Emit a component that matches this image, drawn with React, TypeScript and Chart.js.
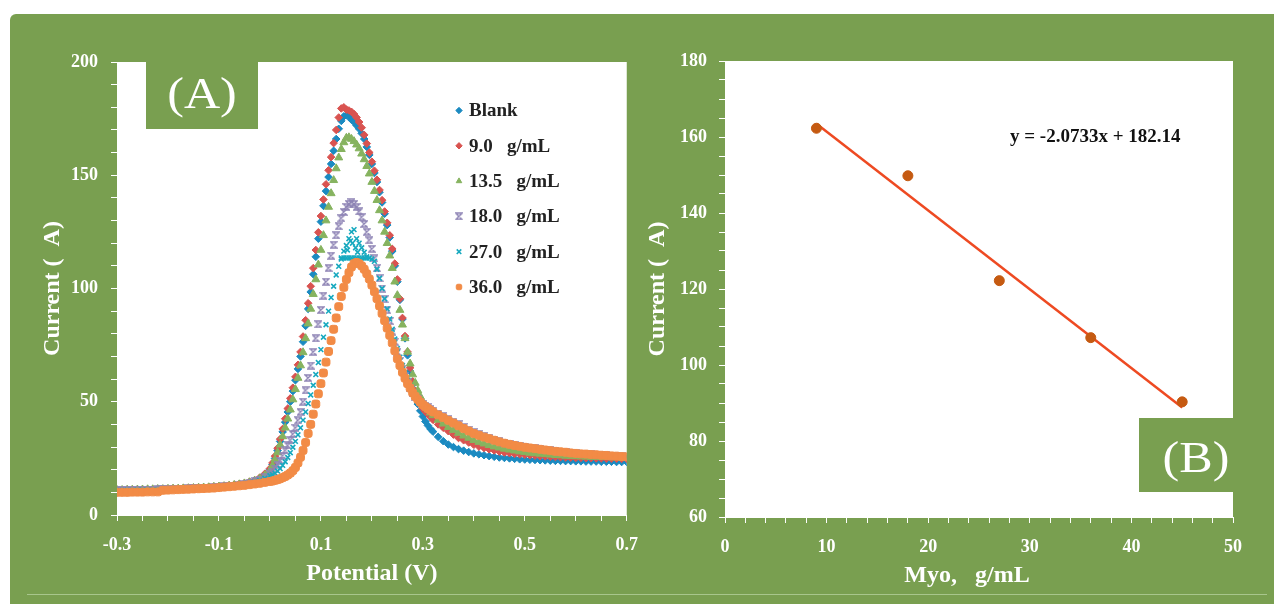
import React, { useEffect, useRef } from 'react';
import { Chart, registerables } from 'chart.js';
import { drawPoint } from 'chart.js/helpers';

Chart.register(...registerables);

const FONT = "'Liberation Serif', 'Times New Roman', Times, serif";
const GREEN = '#799f50';

// ---------- Panel A: DPV curves ----------
const potential = [
  -0.30, -0.29, -0.28, -0.27, -0.26, -0.25, -0.24, -0.23, -0.22, -0.21,
  -0.20, -0.19, -0.18, -0.17, -0.16, -0.15, -0.14, -0.13, -0.12, -0.11,
  -0.10, -0.09, -0.08, -0.07, -0.06, -0.05, -0.04, -0.03, -0.02, -0.01,
  0.000, 0.005, 0.010, 0.015, 0.020, 0.025, 0.030, 0.035, 0.040, 0.045,
  0.050, 0.055, 0.060, 0.065, 0.070, 0.075, 0.080, 0.085, 0.090, 0.095,
  0.100, 0.105, 0.110, 0.115, 0.120, 0.125, 0.130, 0.135, 0.140, 0.145,
  0.150, 0.155, 0.160, 0.165, 0.170, 0.175, 0.180, 0.185, 0.190, 0.195,
  0.200, 0.205, 0.210, 0.215, 0.220, 0.225, 0.230, 0.235, 0.240, 0.245,
  0.250, 0.255, 0.260, 0.265, 0.270, 0.275, 0.280, 0.285, 0.290, 0.295,
  0.300, 0.305, 0.310, 0.315, 0.320,
  0.33, 0.34, 0.35, 0.36, 0.37, 0.38, 0.39,
  0.40, 0.41, 0.42, 0.43, 0.44, 0.45, 0.46, 0.47, 0.48, 0.49,
  0.50, 0.51, 0.52, 0.53, 0.54, 0.55, 0.56, 0.57, 0.58, 0.59,
  0.60, 0.61, 0.62, 0.63, 0.64, 0.65, 0.66, 0.67, 0.68, 0.69, 0.70,
];

const blankCurrent = [
  11.0, 11.0, 11.1, 11.1, 11.2, 11.2, 11.3, 11.3, 11.4, 11.4,
  11.5, 11.6, 11.6, 11.7, 11.8, 11.9, 12.0, 12.1, 12.2, 12.4,
  12.5, 12.7, 12.9, 13.2, 13.5, 13.9, 14.4, 15.1, 16.1, 17.6,
  20.0, 22.3, 25.0, 28.5, 32.5, 36.7, 41.0, 45.5, 50.0, 54.7,
  59.5, 64.5, 70.0, 76.5, 83.5, 91.0, 98.5, 106.3, 114.0, 122.0,
  129.5, 136.5, 143.0, 149.2, 155.0, 160.8, 166.0, 170.5, 174.0, 176.0,
  176.5, 175.8, 174.5, 173.5, 172.0, 170.5, 168.5, 166.0, 162.5, 159.0,
  155.0, 151.0, 147.0, 142.5, 138.0, 133.0, 128.0, 122.5, 116.5, 110.0,
  103.0, 95.0, 86.5, 78.0, 70.5, 63.5, 57.5, 53.0, 49.0, 46.0,
  43.5, 41.3, 39.5, 38.0, 36.8,
  34.5, 32.6, 31.1, 30.0, 29.1, 28.4, 27.8,
  27.2, 26.8, 26.4, 26.0, 25.7, 25.4, 25.2, 25.0, 24.8, 24.6,
  24.5, 24.4, 24.3, 24.2, 24.1, 24.0, 23.9, 23.9, 23.8, 23.8,
  23.7, 23.7, 23.6, 23.6, 23.6, 23.5, 23.5, 23.5, 23.4, 23.4, 23.4,
];

const myo9Current = [
  11.1, 11.1, 11.2, 11.2, 11.3, 11.3, 11.4, 11.4, 11.5, 11.5,
  11.6, 11.7, 11.7, 11.8, 11.9, 12.0, 12.1, 12.2, 12.4, 12.5,
  12.7, 12.9, 13.1, 13.4, 13.7, 14.1, 14.7, 15.4, 16.5, 18.2,
  20.5, 23.0, 26.0, 29.5, 33.5, 38.0, 42.5, 47.0, 51.5, 56.2,
  61.0, 66.3, 72.0, 78.8, 86.0, 93.5, 101.0, 109.0, 117.0, 124.8,
  132.0, 139.3, 146.0, 152.2, 158.0, 164.2, 170.0, 175.5, 179.5, 180.0,
  179.0, 178.6, 178.0, 177.0, 175.5, 173.5, 171.0, 167.8, 164.0, 160.0,
  156.0, 152.0, 148.0, 143.5, 139.0, 134.0, 129.0, 123.5, 117.5, 111.0,
  104.0, 95.5, 87.0, 79.0, 72.0, 65.0, 59.0, 54.8, 51.5, 49.0,
  47.0, 45.7, 44.5, 43.2, 42.0,
  40.0, 38.5, 37.0, 35.5, 34.0, 33.0, 32.0,
  31.0, 30.2, 29.6, 29.0, 28.5, 28.0, 27.6, 27.3, 27.0, 26.8,
  26.6, 26.4, 26.2, 26.0, 25.9, 25.7, 25.6, 25.5, 25.4, 25.3,
  25.2, 25.2, 25.1, 25.1, 25.0, 25.0, 24.9, 24.9, 24.9, 24.8, 24.8,
];

const myo13Current = [
  11.0, 11.0, 11.1, 11.1, 11.2, 11.2, 11.3, 11.3, 11.4, 11.4,
  11.5, 11.6, 11.6, 11.7, 11.8, 11.9, 12.0, 12.1, 12.2, 12.4,
  12.5, 12.7, 12.9, 13.2, 13.5, 13.9, 14.4, 15.1, 16.1, 17.5,
  19.5, 21.8, 24.5, 27.6, 31.0, 34.7, 38.5, 42.5, 46.5, 51.0,
  55.5, 60.5, 66.0, 71.8, 78.0, 84.5, 91.0, 97.5, 104.0, 110.5,
  117.0, 123.5, 130.0, 136.0, 142.0, 147.8, 153.0, 157.8, 161.5, 164.5,
  166.5, 166.7, 166.0, 165.0, 163.5, 161.8, 159.5, 157.0, 154.0, 150.7,
  147.0, 143.0, 139.0, 134.5, 130.0, 125.0, 120.0, 114.5, 109.0, 103.0,
  97.0, 90.5, 84.0, 78.0, 72.0, 66.8, 62.0, 58.3, 55.0, 52.3,
  50.0, 48.2, 46.5, 45.2, 44.0,
  42.0, 40.3, 38.8, 37.5, 36.2, 35.0, 34.0,
  33.0, 32.2, 31.5, 30.8, 30.2, 29.7, 29.2, 28.8, 28.4, 28.0,
  27.7, 27.4, 27.2, 27.0, 26.8, 26.6, 26.4, 26.3, 26.1, 26.0,
  25.9, 25.8, 25.7, 25.6, 25.6, 25.5, 25.5, 25.4, 25.4, 25.3, 25.3,
];

const myo18Current = [
  10.9, 10.9, 11.0, 11.0, 11.1, 11.1, 11.2, 11.2, 11.3, 11.3,
  11.4, 11.5, 11.5, 11.6, 11.7, 11.8, 11.9, 12.0, 12.1, 12.3,
  12.4, 12.6, 12.8, 13.0, 13.3, 13.7, 14.2, 14.8, 15.6, 16.7,
  18.0, 19.2, 20.5, 22.2, 24.0, 26.2, 28.5, 30.7, 33.0, 35.7,
  38.5, 41.8, 45.5, 50.0, 55.0, 60.5, 66.0, 72.0, 78.0, 84.2,
  90.5, 96.8, 103.0, 109.0, 114.5, 119.3, 123.5, 127.5, 131.0, 133.8,
  136.0, 137.3, 138.0, 137.3, 136.0, 134.0, 131.5, 128.5, 125.0, 121.3,
  117.5, 113.3, 109.0, 104.5, 100.0, 95.3, 90.5, 85.7, 81.0, 76.5,
  72.0, 68.0, 64.5, 61.3, 58.5, 56.0, 54.0, 52.3, 51.0, 50.0,
  49.0, 48.2, 47.5, 46.7, 46.0,
  44.8, 43.6, 42.4, 41.2, 40.0, 38.8, 37.6,
  36.5, 35.6, 34.8, 34.0, 33.3, 32.6, 32.0, 31.4, 30.9, 30.5,
  30.1, 29.7, 29.4, 29.1, 28.8, 28.5, 28.2, 28.0, 27.7, 27.5,
  27.3, 27.1, 26.9, 26.8, 26.6, 26.5, 26.3, 26.2, 26.0, 25.9, 25.8,
];

const myo27Current = [
  10.8, 10.8, 10.9, 10.9, 11.0, 11.0, 11.1, 11.1, 11.2, 11.2,
  11.3, 11.4, 11.4, 11.5, 11.6, 11.7, 11.8, 11.9, 12.0, 12.2,
  12.3, 12.5, 12.7, 12.9, 13.2, 13.5, 14.0, 14.6, 15.3, 16.2,
  17.3, 17.8, 18.5, 19.4, 20.5, 21.9, 23.5, 25.4, 27.5, 29.9,
  32.5, 35.4, 38.5, 41.9, 45.5, 49.2, 53.0, 57.3, 62.0, 67.3,
  73.0, 78.5, 84.0, 90.0, 96.0, 101.0, 106.0, 109.8, 113.0, 116.5,
  119.0, 122.0, 125.0, 126.0, 122.0, 120.0, 118.0, 116.0, 114.0, 113.5,
  113.0, 112.0, 108.5, 104.5, 100.0, 95.5, 91.0, 86.5, 82.0, 77.7,
  73.5, 69.7, 66.0, 62.7, 59.5, 56.8, 54.5, 52.7, 51.0, 49.8,
  48.8, 48.0, 47.2, 46.5, 45.8,
  44.6, 43.4, 42.2, 41.0, 39.8, 38.7, 37.5,
  36.4, 35.6, 34.8, 34.1, 33.4, 32.7, 32.1, 31.5, 31.0, 30.5,
  30.1, 29.7, 29.4, 29.1, 28.8, 28.5, 28.2, 27.9, 27.7, 27.5,
  27.3, 27.1, 26.9, 26.7, 26.6, 26.4, 26.3, 26.1, 26.0, 25.9, 25.8,
];
// extra readings in the crowded flat top of the 27.0 curve
const myo27PeakPotential = [0.14, 0.145, 0.15, 0.155, 0.16, 0.165, 0.17, 0.175, 0.18, 0.185, 0.19, 0.152, 0.158, 0.162, 0.168, 0.172];
const myo27PeakCurrent = [113.5, 113.5, 113.5, 113.5, 113.5, 113.5, 113.5, 113.5, 113.5, 113.5, 113.5, 117.0, 121.0, 120.0, 118.0, 116.0];

const myo36Current = [
  10.0, 10.0, 10.0, 10.1, 10.1, 10.1, 10.2, 10.2, 10.2, 10.9,
  11.0, 11.1, 11.2, 11.3, 11.4, 11.5, 11.6, 11.7, 11.8, 11.9,
  12.1, 12.3, 12.5, 12.7, 12.9, 13.1, 13.4, 13.7, 14.0, 14.4,
  14.8, 15.0, 15.3, 15.6, 16.0, 16.5, 17.0, 17.7, 18.5, 19.6,
  21.0, 23.0, 25.5, 28.5, 32.0, 36.0, 40.0, 44.5, 49.0, 53.5,
  58.0, 62.7, 67.5, 72.2, 77.0, 82.0, 87.0, 92.0, 96.5, 100.5,
  104.0, 107.0, 109.5, 111.0, 111.5, 111.0, 110.0, 108.5, 106.5, 104.2,
  101.5, 98.6, 95.5, 92.3, 89.0, 85.8, 82.5, 79.3, 76.0, 72.5,
  69.0, 66.0, 63.0, 60.4, 58.0, 56.0, 54.0, 52.4, 51.0, 49.8,
  48.7, 47.8, 47.0, 46.2, 45.5,
  44.2, 43.0, 41.8, 40.6, 39.4, 38.2, 37.1,
  36.0, 35.2, 34.4, 33.7, 33.0, 32.3, 31.7, 31.2, 30.7, 30.3,
  29.9, 29.6, 29.3, 29.0, 28.7, 28.4, 28.1, 27.9, 27.7, 27.4,
  27.2, 27.0, 26.9, 26.7, 26.6, 26.4, 26.3, 26.1, 26.0, 25.8, 25.7,
];

const seriesLabels = ['Blank', '9.0   g/mL', '13.5   g/mL', '18.0   g/mL', '27.0   g/mL', '36.0   g/mL'];
const seriesColors = ['#1b8ac1', '#d95350', '#86b35f', '#8e84b5', '#17a9bf', '#f28b46'];
const seriesMarkers = ['rectRot', 'rectRot', 'triangle', 'hourglass', 'crossRot', 'rectRounded'];
const seriesRadius = [3.8, 3.8, 4.6, 3.6, 3.4, 4.6];

const xTicksA = { min: -0.3, max: 0.7, minor: 0.05, major: 0.2 };
const yTicksA = { min: 0, max: 200, minor: 10, major: 50 };

// ---------- Panel B: calibration ----------
const myoConc = [9, 18, 27, 36, 45];
const peakCurrent = [162.3, 149.8, 122.2, 107.2, 90.3];
const fitSlope = -2.0733;
const fitIntercept = 182.14;
const fitRange = [9, 45];
const equationText = 'y = -2.0733x + 182.14';

const xTicksB = { min: 0, max: 50, minor: 2, major: 10 };
const yTicksB = { min: 60, max: 180, minor: 5, major: 20 };

function isMajor(v: number, start: number, step: number) {
  const k = (v - start) / step;
  return Math.abs(k - Math.round(k)) < 1e-6;
}

function hourglassMarker(color: string) {
  const c = document.createElement('canvas');
  c.width = 8;
  c.height = 8;
  const g = c.getContext('2d')!;
  g.strokeStyle = color;
  g.lineWidth = 1.4;
  g.beginPath();
  g.moveTo(1, 1);
  g.lineTo(7, 1);
  g.lineTo(1, 7);
  g.lineTo(7, 7);
  g.closePath();
  g.stroke();
  return c;
}

const plotBg = {
  id: 'plotBg',
  beforeDraw(chart: any) {
    const { ctx, chartArea } = chart;
    ctx.save();
    ctx.fillStyle = '#ffffff';
    ctx.fillRect(chartArea.left, chartArea.top, chartArea.right - chartArea.left, chartArea.bottom - chartArea.top);
    ctx.restore();
  },
};

function drawStretched(ctx: CanvasRenderingContext2D, text: string, cx: number, cy: number, size: number, sx: number, color: string, weight: string) {
  ctx.save();
  ctx.translate(cx, cy);
  ctx.scale(sx, 1);
  ctx.font = `${weight} ${size}px ${FONT}`;
  ctx.fillStyle = color;
  ctx.textAlign = 'center';
  ctx.textBaseline = 'middle';
  ctx.fillText(text, 0, 0);
  ctx.restore();
}

const tickFont = { family: FONT, size: 18, weight: 'bold' as const };
const titleFont = { family: FONT, size: 24, weight: 'bold' as const };

function axis(t: { min: number; max: number; minor: number; major: number }, fit: (s: any) => void, title: string, titlePad: any, tickPad: number, digits: number) {
  return {
    type: 'linear' as const,
    min: t.min,
    max: t.max,
    afterFit: fit,
    ticks: {
      stepSize: t.minor,
      autoSkip: false,
      maxRotation: 0,
      color: '#ffffff',
      font: tickFont,
      padding: tickPad,
      callback: (v: any) => (isMajor(Number(v), t.min, t.major) ? Number(v).toFixed(digits) : ''),
    },
    grid: { drawOnChartArea: false, drawTicks: true, tickLength: 6, color: '#ffffff', tickColor: '#ffffff', lineWidth: 1 },
    border: { display: true, color: '#ffffff', width: 1 },
    title: { display: true, text: title, color: '#ffffff', font: titleFont, padding: titlePad },
  };
}

export default function App() {
  const refA = useRef<HTMLCanvasElement>(null);
  const refB = useRef<HTMLCanvasElement>(null);

  useEffect(() => {
    const curves = [blankCurrent, myo9Current, myo13Current, myo18Current, myo27Current, myo36Current];
    const datasetsA = curves.map((ys, i) => {
      let data = potential.map((x, j) => ({ x, y: ys[j] }));
      if (i === 4) data = data.concat(myo27PeakPotential.map((x, j) => ({ x, y: myo27PeakCurrent[j] })));
      const style: any = seriesMarkers[i] === 'hourglass' ? hourglassMarker(seriesColors[i]) : seriesMarkers[i];
      return {
        label: seriesLabels[i],
        data,
        showLine: false,
        pointStyle: style,
        pointRadius: seriesRadius[i],
        pointBackgroundColor: seriesColors[i],
        pointBorderColor: seriesColors[i],
        pointBorderWidth: i === 4 ? 1.6 : 1,
        order: 6 - i,
      };
    });

    const overlayA = {
      id: 'overlayA',
      afterDraw(chart: any) {
        const ctx = chart.ctx as CanvasRenderingContext2D;
        ctx.save();
        ctx.fillStyle = GREEN;
        ctx.fillRect(146, 62, 112, 67);
        drawStretched(ctx, '(A)', 202, 96, 44, 1.14, '#ffffff', 'normal');
        chart.data.datasets.forEach((ds: any, i: number) => {
          const y = 110.5 + i * 35.3;
          ctx.fillStyle = ds.pointBackgroundColor;
          ctx.strokeStyle = ds.pointBorderColor;
          ctx.lineWidth = ds.pointBorderWidth;
          drawPoint(ctx, { pointStyle: ds.pointStyle, radius: 3.2, rotation: 0, borderWidth: ds.pointBorderWidth } as any, 459, y);
          ctx.fillStyle = '#222222';
          ctx.font = `bold 19px ${FONT}`;
          ctx.textAlign = 'left';
          ctx.textBaseline = 'middle';
          ctx.fillText(ds.label, 469, y + 1);
        });
        ctx.restore();
      },
    };

    const chartA = new Chart(refA.current!, {
      type: 'scatter',
      data: { datasets: datasetsA as any },
      options: {
        responsive: false,
        animation: false,
        events: [],
        layout: { padding: { top: 62, right: 0, bottom: 0, left: 0 } },
        plugins: { legend: { display: false }, tooltip: { enabled: false } },
        scales: {
          x: axis(xTicksA, (s: any) => { s.height = 85; }, 'Potential (V)', { top: 0, bottom: 12 }, 14, 1),
          y: axis(yTicksA, (s: any) => { s.width = 117; }, 'Current (  A)', { top: 38, bottom: 0 }, 13, 0),
        },
      } as any,
      plugins: [plotBg, overlayA],
    });

    const overlayB = {
      id: 'overlayB',
      afterDraw(chart: any) {
        const ctx = chart.ctx as CanvasRenderingContext2D;
        ctx.save();
        ctx.fillStyle = GREEN;
        ctx.fillRect(499, 418, 94, 74);
        drawStretched(ctx, '(B)', 556, 460, 44, 1.14, '#ffffff', 'normal');
        ctx.fillStyle = '#111111';
        ctx.font = `bold 19px ${FONT}`;
        ctx.textAlign = 'left';
        ctx.textBaseline = 'middle';
        ctx.fillText(equationText, 370, 137);
        ctx.restore();
      },
    };

    const chartB = new Chart(refB.current!, {
      type: 'scatter',
      data: {
        datasets: [
          {
            label: 'Myo',
            data: myoConc.map((x, i) => ({ x, y: peakCurrent[i] })),
            showLine: false,
            pointStyle: 'circle',
            pointRadius: 5,
            pointBackgroundColor: '#c55a11',
            pointBorderColor: '#c55a11',
            order: 1,
          },
          {
            label: 'fit',
            data: fitRange.map((x) => ({ x, y: fitSlope * x + fitIntercept })),
            showLine: true,
            borderColor: '#ee4a22',
            borderWidth: 2.5,
            pointRadius: 0,
            order: 2,
          },
        ] as any,
      },
      options: {
        responsive: false,
        animation: false,
        events: [],
        layout: { padding: { top: 61, right: 41, bottom: 0, left: 0 } },
        plugins: { legend: { display: false }, tooltip: { enabled: false } },
        scales: {
          x: axis(xTicksB, (s: any) => { s.height = 83; }, 'Myo,   g/mL    ', { top: 0, bottom: 10 }, 14, 0),
          y: axis(yTicksB, (s: any) => { s.width = 85; }, 'Current (  A)', { top: 3, bottom: 0 }, 12, 0),
        },
      } as any,
      plugins: [plotBg, overlayB],
    });

    return () => {
      chartA.destroy();
      chartB.destroy();
    };
  }, []);

  return (
    <div style={{ position: 'absolute', left: 0, top: 0, width: 1274, height: 604, background: '#ffffff', overflow: 'hidden' }}>
      <div style={{ position: 'absolute', left: 10, top: 14, width: 1264, height: 590, background: GREEN, borderTopLeftRadius: 6 }} />
      <div style={{ position: 'absolute', left: 27, top: 594, width: 1240, height: 1, background: '#a8c68c' }} />
      <canvas ref={refA} width={652} height={600} style={{ position: 'absolute', left: 0, top: 0 }} />
      <canvas ref={refB} width={634} height={600} style={{ position: 'absolute', left: 640, top: 0 }} />
    </div>
  );
}
